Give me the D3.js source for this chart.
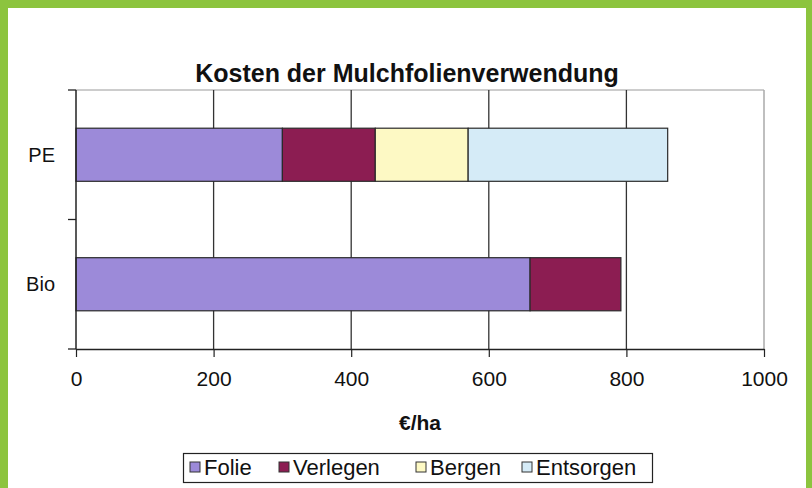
<!DOCTYPE html>
<html>
<head>
<meta charset="utf-8">
<script src="https://cdn.jsdelivr.net/npm/d3@7"></script>
<style>
html,body{margin:0;padding:0;background:#8cc43e;}
svg{display:block;}
text{font-family:"Liberation Sans",Arial,sans-serif;fill:#111;}
</style>
</head>
<body>
<script>
const categories = ["PE", "Bio"];
const seriesNames = ["Folie", "Verlegen", "Bergen", "Entsorgen"];
const folie = [300, 660];
const verlegen = [135, 132];
const bergen = [135, 0];
const entsorgen = [290, 0];
const xTicks = [0, 200, 400, 600, 800, 1000];
const seriesColors = ["#9c8ad9", "#8c1d52", "#fdf9c4", "#d5ebf7"];
const title = "Kosten der Mulchfolienverwendung";
const xTitle = "€/ha";

const W = 812, H = 488;
const svg = d3.select("body").append("svg").attr("width", W).attr("height", H);

// green frame + white panel
svg.append("rect").attr("x", 0).attr("y", 0).attr("width", W).attr("height", H).attr("fill", "#8cc43e");
svg.append("rect").attr("x", 8).attr("y", 8).attr("width", 798).attr("height", H - 8).attr("fill", "#ffffff");

const m = {left: 76, right: 764, top: 90, bottom: 349};
const x = d3.scaleLinear().domain([0, 1000]).range([m.left, m.right]);
const y = d3.scaleBand().domain(categories).range([m.top, m.bottom]).paddingInner(0.59).paddingOuter(0.295);

// title
svg.append("text").attr("x", 407).attr("y", 82).attr("text-anchor", "middle")
  .style("font-size", "25px").style("font-weight", "bold").text(title);

// plot border (top/right light)
svg.append("line").attr("x1", m.left).attr("x2", m.right).attr("y1", m.top).attr("y2", m.top)
  .attr("stroke", "#9a9a9a").attr("stroke-width", 1);
svg.append("line").attr("x1", m.right).attr("x2", m.right).attr("y1", m.top).attr("y2", m.bottom)
  .attr("stroke", "#aaaaaa").attr("stroke-width", 1.5);

// vertical gridlines
svg.append("g").selectAll("line").data(xTicks.filter(d => d > 0 && d < 1000)).join("line")
  .attr("x1", d => x(d)).attr("x2", d => x(d)).attr("y1", m.top).attr("y2", m.bottom)
  .attr("stroke", "#333").attr("stroke-width", 1.3);

// stacked data
const rows = categories.map((c, i) => ({cat: c, Folie: folie[i], Verlegen: verlegen[i], Bergen: bergen[i], Entsorgen: entsorgen[i]}));
const stack = d3.stack().keys(seriesNames)(rows);
const color = d3.scaleOrdinal().domain(seriesNames).range(seriesColors);

svg.append("g").selectAll("g").data(stack).join("g")
  .attr("fill", d => color(d.key))
  .selectAll("rect").data(d => d.filter(p => p[1] - p[0] > 0)).join("rect")
  .attr("x", d => x(d[0])).attr("width", d => x(d[1]) - x(d[0]))
  .attr("y", d => y(d.data.cat)).attr("height", y.bandwidth())
  .attr("stroke", "#2a2a2a").attr("stroke-width", 1.2);

// x axis
const xAxis = d3.axisBottom(x).tickValues(xTicks).tickFormat(d3.format("d"))
  .tickSize(8).tickPadding(14).tickSizeOuter(0);
const gx = svg.append("g").attr("transform", `translate(0,${m.bottom})`).call(xAxis);
gx.select(".domain").attr("stroke", "#222").attr("stroke-width", 1.5);
gx.selectAll(".tick line").attr("stroke", "#222").attr("stroke-width", 1.2);
gx.selectAll(".tick text").style("font-size", "21px").style("font-family", "'Liberation Sans',Arial,sans-serif").attr("fill", "#111");

// y axis
const yEdges = [m.top, (m.top + m.bottom) / 2, m.bottom];
const gy = svg.append("g");
gy.append("line").attr("x1", m.left).attr("x2", m.left).attr("y1", m.top).attr("y2", m.bottom)
  .attr("stroke", "#222").attr("stroke-width", 1.5);
gy.selectAll("line.t").data(yEdges).join("line").attr("class", "t")
  .attr("x1", m.left - 8).attr("x2", m.left).attr("y1", d => d).attr("y2", d => d)
  .attr("stroke", "#222").attr("stroke-width", 1.3);
gy.selectAll("text").data(categories).join("text")
  .attr("x", 55).attr("y", d => y(d) + y.bandwidth() / 2).attr("dy", "0.36em")
  .attr("text-anchor", "end").style("font-size", "20px").text(d => d);

// x title
svg.append("text").attr("x", 420).attr("y", 430).attr("text-anchor", "middle")
  .style("font-size", "21px").style("font-weight", "bold").text(xTitle);

// legend
const lg = svg.append("g");
lg.append("rect").attr("x", 183.5).attr("y", 453.5).attr("width", 469).attr("height", 29)
  .attr("fill", "#fff").attr("stroke", "#222").attr("stroke-width", 1.2);
const legendX = [190, 279, 416, 522];
const items = lg.selectAll("g").data(seriesNames).join("g")
  .attr("transform", (d, i) => `translate(${legendX[i]},467)`);
items.append("rect").attr("x", 0).attr("y", -5).attr("width", 10).attr("height", 10)
  .attr("fill", d => color(d)).attr("stroke", "#333").attr("stroke-width", 1);
items.append("text").attr("x", 14).attr("y", 0).attr("dy", "0.36em").style("font-size", "22px").text(d => d);
</script>
</body>
</html>
